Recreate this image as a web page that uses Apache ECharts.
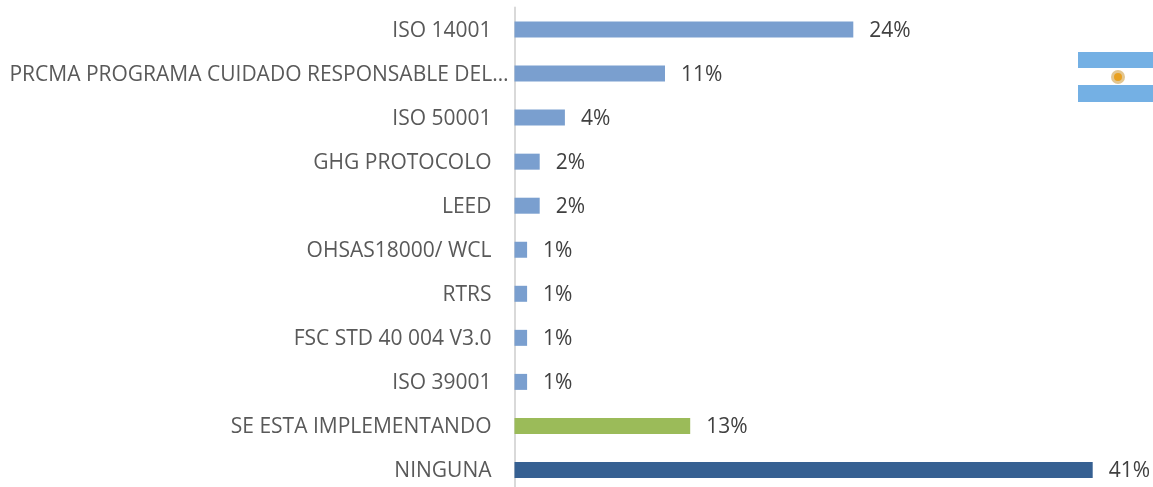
<!DOCTYPE html>
<html>
<head>
<meta charset="utf-8">
<style>html,body{margin:0;padding:0;background:#fff}#c{width:1153px;height:487px}</style>
<script src="https://cdn.jsdelivr.net/npm/echarts@6/dist/echarts.min.js"></script>
</head>
<body>
<div id="c"></div>
<script>
const categories = ["ISO 14001","PRCMA PROGRAMA CUIDADO RESPONSABLE DEL…","ISO 50001","GHG PROTOCOLO","LEED","OHSAS18000/ WCL","RTRS","FSC STD 40 004 V3.0","ISO 39001","SE ESTA IMPLEMENTANDO","NINGUNA"];
const values = [24.2,10.75,3.6,1.8,1.8,0.9,0.9,0.9,0.9,12.55,41.3];
const colors = ["#7a9fcf","#7a9fcf","#7a9fcf","#7a9fcf","#7a9fcf","#7a9fcf","#7a9fcf","#7a9fcf","#7a9fcf","#9bbb59","#366092"];
const FONT = '"Open Sans", sans-serif';
const SIZE = 21;
const chart = echarts.init(document.getElementById('c'), null, {renderer:'canvas'});
chart.setOption({
  animation:false,
  grid:{left:514.5,top:7.5,width:630,height:484.5,containLabel:false,outerBoundsMode:'none'},
  xAxis:{type:'value',min:0,max:45,show:false},
  yAxis:{type:'category',inverse:true,data:categories,
    axisLine:{show:true,lineStyle:{color:'#d9d9d9',width:2}},
    axisTick:{show:false},
    axisLabel:{margin:6,interval:0,fontFamily:FONT,fontSize:SIZE,color:'#595959',
      formatter:v=>v.endsWith('…')?`{l|${v}}`:`{s|${v}}`,
      rich:{
        l:{fontFamily:FONT,fontSize:SIZE,color:'#595959',padding:[2,0,0,0]},
        s:{fontFamily:FONT,fontSize:SIZE,color:'#595959',padding:[2,17,0,0]}
      }}
  },
  series:[{type:'bar',barWidth:16,
    data:values.map((v,i)=>({value:v,itemStyle:{color:colors[i]}})),
    label:{show:true,position:'right',distance:16,offset:[0,1],fontFamily:FONT,fontSize:SIZE,color:'#404040',
      formatter:p=>Math.round(p.value)+'%'}
  }],
  graphic:[
    {type:'rect',silent:true,shape:{x:1078,y:52,width:75,height:16},style:{fill:'#74b0e4'}},
    {type:'rect',silent:true,shape:{x:1078,y:85,width:75,height:17},style:{fill:'#74b0e4'}},
    {type:'circle',silent:true,shape:{cx:1118,cy:77,r:7},style:{fill:'#e3c690'}},
    {type:'circle',silent:true,shape:{cx:1118,cy:77,r:4},style:{fill:'#e8a020'}}
  ]
});
</script>
</body>
</html>
